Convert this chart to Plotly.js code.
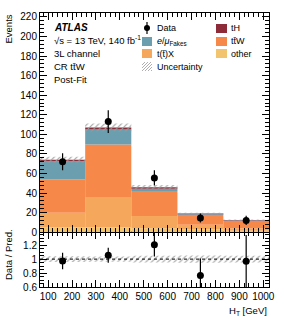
<!DOCTYPE html>
<html><head><meta charset="utf-8">
<script src="https://cdn.plot.ly/plotly-3.0.1.min.js"></script>
<style>html,body{margin:0;padding:0;background:#fff}#c{width:284px;height:320px}</style>
</head><body><div id="c"></div>
<script>
// ---- data ----
const binEdges = [66, 255, 448, 641, 833, 1024];
const other    = [5, 5, 4, 3, 1.5];
const ttX      = [15, 31, 12.5, 4.5, 2.5];
const ttW      = [34, 53.5, 25.5, 10, 7.5];
const fakes    = [18.5, 15.5, 2.5, 0.8, 0.4];
const tH       = [1.5, 2, 1.5, 0.7, 0.5];
const totUnc   = [3, 4, 2.2, 1, 0.6];
const dataVals = [72, 113, 55.5, 14.5, 12];
const dataErr  = [8.8, 11.5, 7.8, 4.7, 4.7];
const xTickVals = [100,200,300,400,500,600,700,800,900,1000];

// ---- derived ----
const centers = binEdges.slice(0,-1).map((e,i)=>(e+binEdges[i+1])/2);
const widths = binEdges.slice(0,-1).map((e,i)=>binEdges[i+1]-e);
const stack = [
  {name:'other', v:other, c:'#f1c46d'},
  {name:'ttX', v:ttX, c:'#f5a75c'},
  {name:'ttW', v:ttW, c:'#f6884a'},
  {name:'fakes', v:fakes, c:'#6b9eae'},
  {name:'tH', v:tH, c:'#8e2b38'}
];
const traces = [];
let base = centers.map(()=>0);
stack.forEach(s=>{
  traces.push({type:'bar', x:centers, y:s.v, base:base.slice(), width:widths,
    marker:{color:s.c, line:{width:0}}, xaxis:'x2', yaxis:'y2', showlegend:false, hoverinfo:'skip'});
  base = base.map((b,i)=>b+s.v[i]);
});
const total = base;
traces.push({type:'bar', x:centers, y:totUnc.map(u=>2*u), base:total.map((t,i)=>t-totUnc[i]), width:widths,
  marker:{color:'rgba(0,0,0,0)', line:{width:0}, pattern:{shape:'/', fgcolor:'#9a9a9a', bgcolor:'rgba(0,0,0,0)', size:4, solidity:0.25}},
  xaxis:'x2', yaxis:'y2', showlegend:false});
traces.push({type:'scatter', mode:'markers', x:centers, y:dataVals,
  error_y:{type:'data', array:dataErr, color:'black', thickness:1.2, width:0},
  marker:{color:'black', size:7}, xaxis:'x2', yaxis:'y2', showlegend:false});
// ratio
const rel = totUnc.map((u,i)=>u/total[i]);
traces.push({type:'bar', x:centers, y:rel.map(r=>2*r), base:rel.map(r=>1-r), width:widths,
  marker:{color:'rgba(0,0,0,0)', line:{width:0}, pattern:{shape:'/', fgcolor:'#9a9a9a', bgcolor:'rgba(0,0,0,0)', size:4, solidity:0.25}},
  xaxis:'x', yaxis:'y', showlegend:false});
traces.push({type:'scatter', mode:'markers', x:centers, y:dataVals.map((d,i)=>d/total[i]),
  error_y:{type:'data', array:dataErr.map((e,i)=>e/total[i]), color:'black', thickness:1.2, width:0},
  marker:{color:'black', size:7}, xaxis:'x', yaxis:'y', showlegend:false, cliponaxis:true});

// ---- layout helpers ----
const L=40, R=269, T=13, B=287;
const px = v=>(v-L)/(R-L);
const py = v=>(B-v)/(B-T);
const F = 'Liberation Sans, Arial, Helvetica, sans-serif';
const ann = [];
const shapes = [];
function txt(text, x, y, size, opts){ ann.push(Object.assign({text:text, xref:'paper', yref:'paper', x:px(x), y:py(y), xanchor:'left', yanchor:'middle', showarrow:false, font:{family:F, size:size, color:'black'}}, opts||{})); }
txt('<b><i>ATLAS</i></b>', 52, 27, 10);
txt('√s = 13 TeV, 140 fb<sup>-1</sup>', 52, 40, 9.5);
txt('3L channel', 52, 53, 9.5);
txt('CR tt̄W', 52, 66, 9.5);
txt('Post-Fit', 52, 79, 9.5);
// legend (manual)
function sw(x0,y0,x1,y1,c){ shapes.push({type:'rect', xref:'paper', yref:'paper', x0:px(x0), x1:px(x1), y0:py(y1), y1:py(y0), fillcolor:c, line:{width:0}}); }
shapes.push({type:'line', xref:'paper', yref:'paper', x0:px(147), x1:px(147), y0:py(22), y1:py(34), line:{color:'black', width:1.2}});
shapes.push({type:'circle', xref:'paper', yref:'paper', x0:px(144), x1:px(150), y0:py(31), y1:py(25), fillcolor:'black', line:{width:0}});
txt('Data', 155, 28, 9);
sw(142,37,152,46,'#6b9eae'); txt('<i>e</i>/<i>μ</i><sub>Fakes</sub>', 155, 41, 9);
sw(142,49,152,58,'#f5a75c'); txt('t(t̄)X', 155, 54, 9);
(function(){ const x0=142,x1=152,y0=62,y1=71; for(let k=-9;k<=10;k+=3){
  let xa=x0, ya=y1-(xa-x0)+k; let xb=x1, yb=y1-(xb-x0)+k;
  function clip(x,y){ if(y>y1){x+= (y-y1); y=y1;} if(y<y0){x-= (y0-y); y=y0;} return [x,y]; }
  let a=clip(xa,ya), b=clip(xb,yb);
  if(a[0]<x1 && b[0]>x0 && a[0]<b[0]) shapes.push({type:'line', xref:'paper', yref:'paper', x0:px(a[0]), y0:py(a[1]), x1:px(b[0]), y1:py(b[1]), line:{color:'#9a9a9a', width:0.8}});
 }})();
txt('Uncertainty', 155, 67, 9);
sw(216,24,227,33,'#8e2b38'); txt('tH', 229, 28, 9);
sw(216,37,227,46,'#f6884a'); txt('tt̄W', 229, 41, 9);
sw(216,49,227,58,'#f1c46d'); txt('other', 229, 54, 9);
// axis titles
ann.push({text:'Events', xref:'paper', yref:'paper', x:px(8), y:py(13), xanchor:'center', yanchor:'top', textangle:-90, showarrow:false, font:{family:F, size:9.5}});
ann.push({text:'Data / Pred.', xref:'paper', yref:'paper', x:px(8), y:py(255), xanchor:'center', yanchor:'middle', textangle:-90, showarrow:false, font:{family:F, size:9.5}});
ann.push({text:'H<sub>T</sub> [GeV]', xref:'paper', yref:'paper', x:px(269), y:py(311), xanchor:'right', yanchor:'middle', showarrow:false, font:{family:F, size:9.5}});
shapes.push({type:'line', xref:'paper', yref:'y', x0:0, x1:1, y0:1, y1:1, line:{color:'black', width:1, dash:'dot'}});

const axCommon = {showline:true, linecolor:'black', linewidth:1, mirror:'ticks', ticks:'inside', ticklen:7, tickwidth:1, tickcolor:'black', showgrid:false, zeroline:false,
  tickfont:{family:F, size:10, color:'black'}};
const layout = {
  width:284, height:320, margin:{l:L, r:284-R, t:T, b:320-B}, paper_bgcolor:'white', plot_bgcolor:'rgba(0,0,0,0)',
  barmode:'overlay', showlegend:false, font:{family:F, color:'black'},
  xaxis:Object.assign({}, axCommon, {range:[binEdges[0], binEdges[5]], anchor:'y', tickvals:xTickVals,
     minor:{ticks:'inside', ticklen:4, dtick:20, tick0:0, tickcolor:'black', showgrid:false}}),
  yaxis:Object.assign({}, axCommon, {domain:[0,0.2], range:[0.6,1.386], dtick:0.2, tick0:0.6, anchor:'x',
     minor:{ticks:'inside', ticklen:4, dtick:0.05, tickcolor:'black', showgrid:false}}),
  xaxis2:Object.assign({}, axCommon, {matches:'x', anchor:'y2', showticklabels:false, tickvals:xTickVals,
     minor:{ticks:'inside', ticklen:4, dtick:20, tick0:0, tickcolor:'black', showgrid:false}}),
  yaxis2:Object.assign({}, axCommon, {domain:[0.2,1], range:[0,224], dtick:20, anchor:'x2',
     minor:{ticks:'inside', ticklen:4, dtick:4, tickcolor:'black', showgrid:false}}),
  annotations:ann, shapes:shapes
};
Plotly.newPlot('c', traces, layout, {staticPlot:true, displayModeBar:false});
</script></body></html>
